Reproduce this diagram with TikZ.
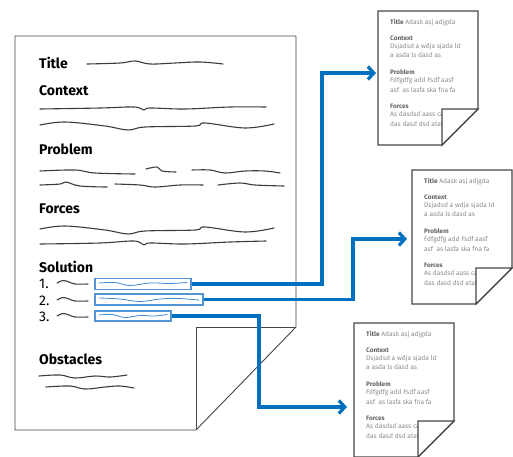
\documentclass[tikz,border=0pt]{standalone}
\usepackage{fontspec}
\setmainfont{Fira Sans}
\usetikzlibrary{arrows.meta}
\definecolor{cblue}{RGB}{0,112,192}
\definecolor{bblue}{RGB}{80,150,215}
\definecolor{lblue}{RGB}{60,140,215}
\definecolor{pagegray}{RGB}{70,70,70}
\definecolor{inkgray}{RGB}{60,60,60}
\definecolor{hgray}{RGB}{100,100,100}
\definecolor{tgray}{RGB}{140,140,140}
\tikzset{
  head/.style={anchor=base west, inner sep=0, font=\bfseries\fontsize{14}{14}\selectfont, text=black},
  num/.style={anchor=base west, inner sep=0, font=\fontsize{14}{14}\selectfont, text=black},
  ink/.style={draw=inkgray, line width=1.1pt, line cap=round, line join=round},
  bink/.style={draw=lblue, line width=0.8pt, line cap=round, line join=round},
  solbox/.style={draw=bblue, line width=1.2pt, fill=white, inner sep=0, minimum height=11pt},
  conn/.style={draw=cblue, line width=3.2pt, -{Straight Barb[length=6pt,width=13pt]}},
  dh/.style={anchor=base west, inner sep=0, font=\bfseries\fontsize{6.4}{7}\selectfont, text=hgray},
  dt/.style={anchor=base west, inner sep=0, font=\fontsize{6.6}{7}\selectfont, text=tgray},
  docsheet/.pic={
    \draw[fill=white, draw=pagegray, line width=1.3pt, line join=miter] (0,0) -- (100,0) -- (100,98) -- (64,134) -- (0,134) -- cycle;
    \node[dt] at (12,13.5) {\textcolor{hgray}{\bfseries Title} Adask asj adjgda};
    \node[dh] at (12,29.5) {Context};
    \node[dt] at (12,37) {Dsjadsd a wdja sjada ld};
    \node[dt] at (12,46.5) {a asda ls dasd as};
    \node[dh] at (12,63.5) {Problem};
    \node[dt] at (12,71.5) {Fdfgdfg add Fsdf aasf};
    \node[dt] at (12,81) {asf\ \ as lasfa ska fna fa};
    \node[dh] at (12,97.5) {Forces};
    \node[dt] at (12,105.5) {As dasdsd aass ca};
    \node[dt] at (12,115) {das dasd dsd atal};
    \draw[fill=white, draw=pagegray, line width=1.3pt, line join=miter] (64,98) -- (100,98) -- (64,134) -- cycle;
  }
}
\begin{document}
\begin{tikzpicture}[x=1pt,y=-1pt]
\useasboundingbox (0,0) rectangle (513,456);
% main page
\draw[fill=white, draw=pagegray, line width=0.9pt] (15,36) -- (296,36) -- (296,327) -- (196,430) -- (15,430) -- cycle;
\draw[draw=pagegray, line width=0.9pt] (196,327) -- (296,327) (196,327) -- (196,430);

\node[head] (title) at (39,68) {Title};
\node[head] (context) at (39,95) {Context};
\node[head] (problem) at (39,154) {Problem};
\node[head] (forces) at (39,213) {Forces};
\node[head] (solution) at (39,272) {Solution};
\node[head] (obstacles) at (39,364) {Obstacles};
\node[num] (n1) at (39,288) {1.};
\node[num] (n2) at (39,305) {2.};
\node[num] (n3) at (39,321) {3.};

% squiggles
\draw[ink] plot[smooth, tension=0.6] coordinates {(87,64) (120,63) (135,61) (150,64) (175,63) (200,62) (223,64)};
\draw[ink] plot[smooth, tension=0.6] coordinates {(40,109) (100,108) (134,107) (144,110) (150,108) (185,109) (230,107) (266,107)};
\draw[ink] plot[smooth, tension=0.6] coordinates {(40,125) (65,122) (105,126) (128,130) (145,127) (195,126) (205,123) (245,128) (274,124)};
\draw[ink] plot[smooth, tension=0.6] coordinates {(40,171) (75,170) (95,173) (135,174)};
\draw[ink] plot[smooth, tension=0.6] coordinates {(146,169) (157,167) (162,171) (176,172)};
\draw[ink] plot[smooth, tension=0.6] coordinates {(192,170) (210,170) (225,173) (245,171) (265,171) (280,173)};
\draw[ink] plot[smooth, tension=0.6] coordinates {(40,185) (60,184) (66,182) (80,186) (107,187)};
\draw[ink] plot[smooth, tension=0.6] coordinates {(115,184) (140,185) (155,187) (180,185) (203,185)};
\draw[ink] plot[smooth, tension=0.6] coordinates {(218,185) (240,183) (255,185) (284,186)};
\draw[ink] plot[smooth, tension=0.6] coordinates {(40,229) (65,226) (105,230) (128,234) (145,231) (195,230) (205,227) (245,232) (274,228)};
\draw[ink] plot[smooth, tension=0.6] coordinates {(40,244) (100,243) (134,241) (144,245) (150,243) (185,244) (230,242) (266,241)};
\draw[ink] plot[smooth, tension=0.6] coordinates {(57,283) (63,280.5) (69,282) (75,284) (88,284)};
\draw[ink] plot[smooth, tension=0.6] coordinates {(57,300) (63,297.5) (69,299) (75,301) (88,301)};
\draw[ink] plot[smooth, tension=0.6] coordinates {(57,316) (63,313.5) (69,315) (75,317) (88,317)};
\draw[ink] plot[smooth, tension=0.6] coordinates {(39,376) (60,375) (75,378) (95,376) (110,377) (127,375)};
\draw[ink] plot[smooth, tension=0.6] coordinates {(46,387) (70,386) (85,389) (105,387) (120,386) (134,388)};

% solution boxes
\node[solbox, minimum width=96pt] (s1) at (143,284) {};
\node[solbox, minimum width=108pt] (s2) at (149,299.5) {};
\node[solbox, minimum width=76pt, minimum height=10pt] (s3) at (133,316) {};
\draw[bink] plot[smooth, tension=0.6] coordinates {(99,283) (115,282.5) (130,285.5) (150,283) (170,283.5) (187,282.5)};
\draw[bink] plot[smooth, tension=0.6] coordinates {(99,298) (120,299) (140,301.5) (160,299) (178,298.5) (199,300)};
\draw[bink] plot[smooth, tension=0.6] coordinates {(99,315) (112,314.5) (125,317.5) (140,315.5) (155,316) (167,314.5)};

% documents
\pic at (378,11) {docsheet};
\pic at (412,170) {docsheet};
\pic at (354,323) {docsheet};

% connectors
\coordinate (d1in) at (376,73);
\coordinate (d2in) at (407,239);
\coordinate (d3in) at (347,407);
\coordinate (j1) at (322,73);
\coordinate (j2) at (353,239);
\coordinate (j3) at (259,407);
\draw[conn] (s1.east) -| (j1) -- (d1in);
\draw[conn] (s2.east) -| (j2) -- (d2in);
\draw[conn] (s3.east) -| (j3) -- (d3in);
\end{tikzpicture}
\end{document}
